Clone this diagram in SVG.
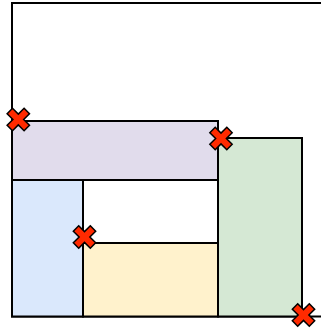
<svg xmlns="http://www.w3.org/2000/svg" width="321" height="328" viewBox="0 0 321 328">
<style>
.box{stroke:#000;stroke-width:2}
.frame{fill:none;stroke:#000;stroke-width:2}
.x{fill:#ff2a00;stroke:#000;stroke-width:1.5;stroke-linejoin:miter}
</style>
<defs>
<polygon id="cross" class="x" points="-3.8,-12 3.8,-12 3.8,-3.8 12,-3.8 12,3.8 3.8,3.8 3.8,12 -3.8,12 -3.8,3.8 -12,3.8 -12,-3.8 -3.8,-3.8" transform="rotate(45)"/>
</defs>
<rect width="321" height="328" fill="#fff"/>
<g id="frame">
<path class="frame" d="M321,3 H12 V316.5 H321"/>
</g>
<g id="purple"><rect class="box" x="12" y="121" width="206" height="59" fill="#e1dcec"/></g>
<g id="blue"><rect class="box" x="12" y="180" width="71" height="136.5" fill="#dae8fc"/></g>
<g id="yellow"><rect class="box" x="83" y="243" width="135" height="73.5" fill="#fff2cc"/></g>
<g id="green"><rect class="box" x="218" y="138" width="84" height="178.5" fill="#d5e8d4"/></g>
<g id="markers">
<use href="#cross" x="18.3" y="119.5"/>
<use href="#cross" x="221" y="138.5"/>
<use href="#cross" x="84.5" y="237"/>
<use href="#cross" x="303.5" y="315"/>
</g>
</svg>
